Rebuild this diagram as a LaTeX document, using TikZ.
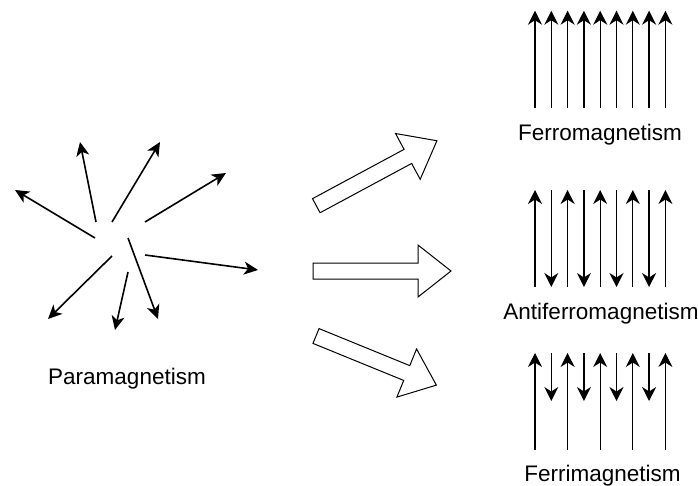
\documentclass[tikz,border=0pt]{standalone}
\usepackage{fontspec}
\setmainfont{Liberation Sans}
\usetikzlibrary{arrows.meta}
\begin{document}
\begin{tikzpicture}[x=1pt,y=-1pt,
  spin/.style={line width=1.6pt,-{Stealth[length=14pt,width=13pt,inset=4pt]}},
  moment/.style={line width=1.3pt,-{Stealth[length=14pt,width=14pt,inset=4.5pt]}},
  blockarrow/.style={draw=black,line width=1pt,fill=white,line join=miter},
  lbl/.style={anchor=base,inner sep=0pt,font=\fontsize{22.5}{27}\selectfont}]
\useasboundingbox (0,0) rectangle (698,486);

% Paramagnetism: random moments
\foreach \sx/\sy/\ex/\ey in {95/238/15/190, 96/222/80/142, 112/222/160/142, 145/222/226/173,
  145/255/258/270, 128/238/158/319, 128/272/115/330, 112/256/48/319}
  \draw[spin] (\sx,\sy) -- (\ex,\ey);
\node[lbl] (para) at (127,384) {Paramagnetism};

% block arrows
\begin{scope}[shift={(316.3,205.7)},rotate=28.3]
  \draw[blockarrow] (0,-8) -- (104,-8) -- (104,-26) -- (137,0) -- (104,26) -- (104,8) -- (0,8) -- cycle;
\end{scope}
\begin{scope}[shift={(313,271)}]
  \draw[blockarrow] (0,-8) -- (105,-8) -- (105,-26) -- (138,0) -- (105,26) -- (105,8) -- (0,8) -- cycle;
\end{scope}
\begin{scope}[shift={(316,336)},rotate=-22.2]
  \draw[blockarrow] (0,-8) -- (98,-8) -- (98,-26) -- (130,0) -- (98,26) -- (98,8) -- (0,8) -- cycle;
\end{scope}

% Ferromagnetism
\foreach \i in {0,...,8}
  \draw[moment] ({535+16.3*\i},108) -- ({535+16.3*\i},10.7);
\node[lbl] (ferro) at (600,141) {Ferromagnetism};

% Antiferromagnetism
\foreach \i in {0,2,4,6,8}
  \draw[moment] ({535+16.3*\i},287) -- ({535+16.3*\i},190);
\foreach \i in {1,3,5,7}
  \draw[moment] ({535+16.3*\i},190) -- ({535+16.3*\i},287);
\node[lbl] (antiferro) at (601,319.3) {Antiferromagnetism};

% Ferrimagnetism
\foreach \i in {0,2,4,6,8}
  \draw[moment] ({535+16.3*\i},450) -- ({535+16.3*\i},353);
\foreach \i in {1,3,5,7}
  \draw[moment] ({535+16.3*\i},353) -- ({535+16.3*\i},401);
\node[lbl] (ferri) at (602.5,481.7) {Ferrimagnetism};
\end{tikzpicture}
\end{document}
